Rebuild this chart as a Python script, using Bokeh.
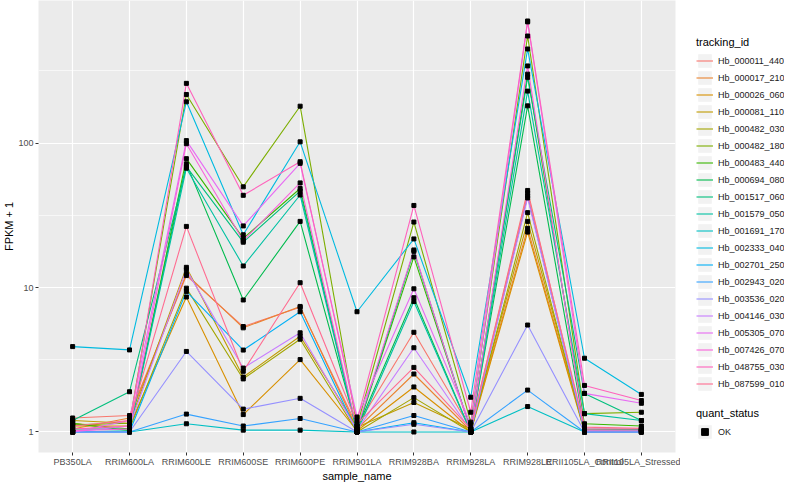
from bokeh.plotting import figure
from bokeh.layouts import row
from bokeh.models import Range1d, FixedTicker, Legend, LegendItem, CustomJSTickFormatter
from bokeh.embed import file_html
from bokeh.resources import INLINE

samples = ["PB350LA", "RRIM600LA", "RRIM600LE", "RRIM600SE", "RRIM600PE", "RRIM901LA",
           "RRIM928BA", "RRIM928LA", "RRIM928LE", "RRII105LA_Control", "RRII105LA_Stressed"]

tracking_ids = ["Hb_000011_440", "Hb_000017_210", "Hb_000026_060", "Hb_000081_110",
                "Hb_000482_030", "Hb_000482_180", "Hb_000483_440", "Hb_000694_080",
                "Hb_001517_060", "Hb_001579_050", "Hb_001691_170", "Hb_002333_040",
                "Hb_002701_250", "Hb_002943_020", "Hb_003536_020", "Hb_004146_030",
                "Hb_005305_070", "Hb_007426_070", "Hb_048755_030", "Hb_087599_010"]

colors = ["#F8766D", "#EA8331", "#D89000", "#C09B00", "#A3A500", "#7CAE00", "#39B600",
          "#00BB4E", "#00BF7D", "#00C1A3", "#00BFC4", "#00BAE0", "#00B0F6", "#35A2FF",
          "#9590FF", "#C77CFF", "#E76BF3", "#FA62DB", "#FF62BC", "#FF6C91"]

# FPKM + 1 per sample, in the order of `samples`
hb_000011_440 = [1.25, 1.3, 12.1, 5.37, 7.3, 1.1, 4.9, 1.05, 47, 1.03, 1.02]
hb_000017_210 = [1.05, 1.25, 12.4, 5.26, 7.4, 1.05, 2.52, 1.02, 25.7, 1.02, 1.03]
hb_000026_060 = [1.1, 1.1, 8.6, 1.32, 3.17, 1.02, 2.05, 1.0, 24.2, 1.0, 1.0]
hb_000081_110 = [1.2, 1.15, 13.8, 2.4, 4.6, 1.08, 1.6, 1.05, 28.7, 1.05, 1.04]
hb_000482_030 = [1.15, 1.05, 9.9, 2.33, 4.39, 1.0, 1.73, 1.0, 33, 1.0, 1.02]
hb_000482_180 = [1.12, 1.15, 217, 49.8, 180, 1.1, 28.4, 1.17, 551, 1.34, 1.37]
hb_000483_440 = [1.15, 1.02, 78, 21.9, 48.5, 1.02, 16.3, 1.03, 300, 1.14, 1.1]
hb_000694_080 = [1.05, 1.05, 71.8, 8.2, 28.7, 1.05, 8.5, 1.0, 181, 1.05, 1.04]
hb_001517_060 = [1.2, 1.9, 68.7, 20.6, 46.5, 1.02, 17.8, 1.02, 285, 1.85, 1.2]
hb_001579_050 = [1.0, 1.02, 67, 14.1, 43.7, 1.0, 8.0, 1.0, 229, 1.34, 1.2]
hb_001691_170 = [1.0, 1.0, 1.14, 1.03, 1.03, 1.0, 1.0, 1.0, 1.5, 1.0, 1.0]
hb_002333_040 = [3.9, 3.7, 193, 23.2, 102, 6.8, 21.7, 1.74, 448, 3.24, 1.82]
hb_002701_250 = [1.0, 1.0, 9.4, 3.69, 6.8, 1.0, 1.16, 1.0, 43, 1.0, 1.0]
hb_002943_020 = [1.0, 1.0, 1.33, 1.10, 1.24, 1.0, 1.30, 1.0, 1.95, 1.0, 1.0]
hb_003536_020 = [1.0, 1.0, 3.61, 1.44, 1.71, 1.0, 1.13, 1.0, 5.5, 1.0, 1.0]
hb_004146_030 = [1.0, 1.1, 13.3, 2.77, 4.86, 1.03, 3.83, 1.02, 41.7, 1.02, 1.02]
hb_005305_070 = [1.0, 1.2, 104, 26.7, 72.4, 1.27, 9.8, 1.13, 690, 1.85, 1.58]
hb_007426_070 = [1.02, 1.05, 99, 21.1, 53, 1.05, 18.2, 1.0, 342, 1.05, 1.05]
hb_048755_030 = [1.05, 1.1, 259, 43.5, 74.3, 1.2, 37, 1.37, 700, 2.1, 1.65]
hb_087599_010 = [1.1, 1.2, 26.5, 2.63, 10.8, 1.14, 2.8, 1.05, 45, 1.08, 1.06]

series = [hb_000011_440, hb_000017_210, hb_000026_060, hb_000081_110, hb_000482_030,
          hb_000482_180, hb_000483_440, hb_000694_080, hb_001517_060, hb_001579_050,
          hb_001691_170, hb_002333_040, hb_002701_250, hb_002943_020, hb_003536_020,
          hb_004146_030, hb_005305_070, hb_007426_070, hb_048755_030, hb_087599_010]

y_ticks = [1, 10, 100]
y_minor = [10 ** -0.5, 10 ** 0.5, 10 ** 1.5, 10 ** 2.5]

FONT = "Liberation Sans"
xs = list(range(1, len(samples) + 1))

p = figure(width=680, height=484, output_backend="svg", toolbar_location=None,
           x_range=Range1d(0.4, len(samples) + 0.6),
           y_range=Range1d(10 ** -0.142, 10 ** 2.987), y_axis_type="log",
           min_border_left=28, min_border_right=5, min_border_top=0, min_border_bottom=22,
           x_axis_label="sample_name", y_axis_label="FPKM + 1")
p.background_fill_color = "#EBEBEB"
p.border_fill_color = "white"
p.outline_line_color = None

p.xaxis.ticker = FixedTicker(ticks=xs)
p.xaxis.major_label_overrides = {x: s for x, s in zip(xs, samples)}
p.yaxis.ticker = FixedTicker(ticks=y_ticks, minor_ticks=y_minor)
p.yaxis.formatter = CustomJSTickFormatter(code="return String(Math.round(tick));")

for ax in [p.xaxis[0], p.yaxis[0]]:
    ax.axis_line_color = None
    ax.major_tick_line_color = "#333333"
    ax.major_tick_out = 3
    ax.major_tick_in = 0
    ax.minor_tick_line_color = None
    ax.major_label_text_font = FONT
    ax.major_label_text_font_size = "9px"
    ax.major_label_text_color = "#4D4D4D"
    ax.major_label_standoff = 1
    ax.axis_label_text_font = FONT
    ax.axis_label_text_font_size = "11px"
    ax.axis_label_text_font_style = "normal"
    ax.axis_label_text_color = "#000000"
    ax.axis_label_standoff = 0

p.xgrid.grid_line_color = "white"
p.xgrid.grid_line_width = 1.2
p.ygrid.grid_line_color = "white"
p.ygrid.grid_line_width = 1.2
p.ygrid.minor_grid_line_color = "white"
p.ygrid.minor_grid_line_width = 0.6

for vals, c in zip(series, colors):
    p.line(xs, vals, line_color=c, line_width=1.1)

px, py = [], []
for vals in series:
    px.extend(xs)
    py.extend(vals)
p.scatter(px, py, marker="square", size=4, color="black")

# ---- legend panel (separate figure, dummy renderers outside its visible range) ----
lf = figure(width=104, height=484, output_backend="svg", toolbar_location=None,
            x_range=Range1d(0, 1), y_range=Range1d(0, 1),
            x_axis_location=None, y_axis_location=None,
            min_border_left=0, min_border_right=0, min_border_top=0, min_border_bottom=0)
lf.outline_line_color = None
lf.background_fill_color = "white"
lf.border_fill_color = "white"
lf.xgrid.visible = False
lf.ygrid.visible = False

key_bg = lf.rect(x=[-10], y=[-10], width=1, height=1, fill_color="#F2F2F2", line_color=None)
items = []
for t, c in zip(tracking_ids, colors):
    r = lf.line([-10, -9], [-10, -10], line_color=c, line_width=1.1)
    items.append(LegendItem(label=t, renderers=[key_bg, r]))
dummy_pt = lf.scatter([-10], [-10], marker="square", size=4, color="black")


def style_legend(lg):
    lg.title_text_font = FONT
    lg.title_text_font_size = "11px"
    lg.title_text_font_style = "normal"
    lg.title_text_color = "#000000"
    lg.title_standoff = 4
    lg.label_text_font = FONT
    lg.label_text_font_size = "9px"
    lg.label_text_color = "#1A1A1A"
    lg.glyph_height = 17
    lg.glyph_width = 17
    lg.label_height = 17
    lg.label_standoff = 5
    lg.spacing = 0
    lg.padding = 0
    lg.margin = 0
    lg.border_line_color = None
    lg.background_fill_alpha = 0


leg1 = Legend(items=items, title="tracking_id", location=(16, 60))
style_legend(leg1)
lf.add_layout(leg1)

leg2 = Legend(items=[LegendItem(label="OK", renderers=[key_bg, dummy_pt])], title="quant_status",
              location=(16, 12))
style_legend(leg2)
lf.add_layout(leg2)

layout = row(p, lf)
open("out.html", "w").write(file_html(layout, INLINE))
